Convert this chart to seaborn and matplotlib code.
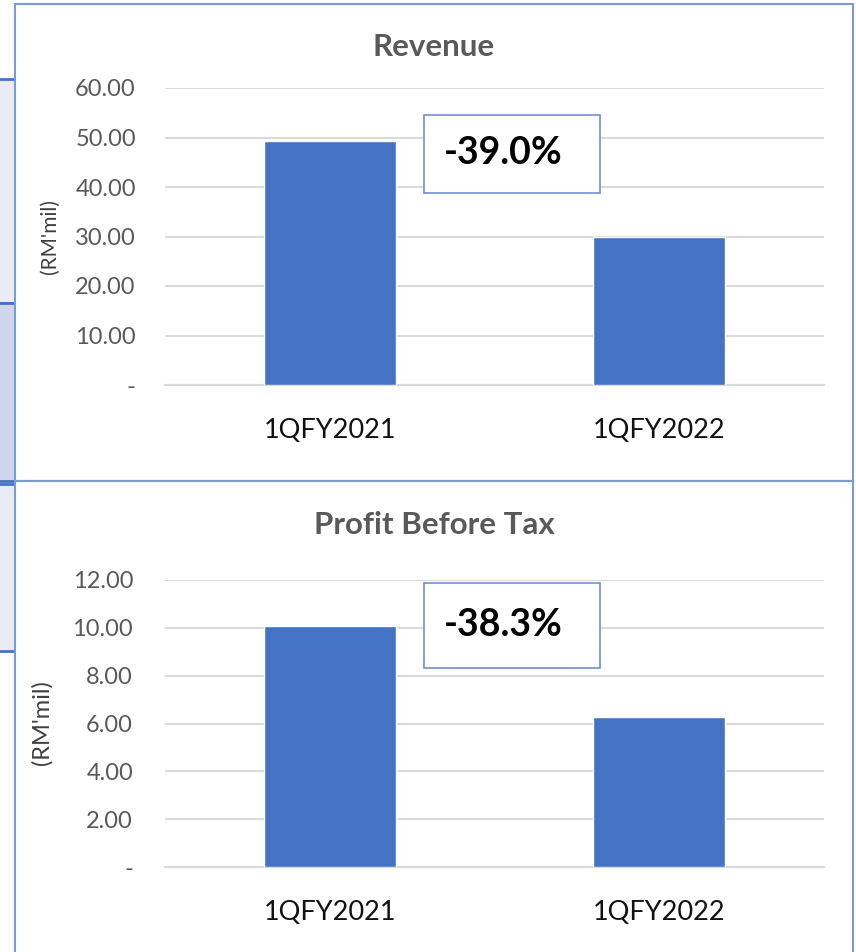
import pandas as pd
import seaborn as sns
import matplotlib.pyplot as plt
from matplotlib.patches import Rectangle

# data
periods = ['1QFY2021', '1QFY2022']
revenue = [49.3, 30.0]
pbt = [10.08, 6.26]
rev_change = '-39.0%'
pbt_change = '-38.3%'

W, H = 856, 952
BAR = '#4472c4'
GRID = '#d9d9d9'
GREY = '#595959'

sns.set_theme(style='white')
plt.rcParams['font.family'] = ['Lato', 'DejaVu Sans']

fig = plt.figure(figsize=(W / 100, H / 100), dpi=100)


def fbox(x0, y0, x1, y1, **kw):
    # rectangle in pixel coords (top-left origin) on the figure
    r = Rectangle((x0 / W, 1 - y1 / H), (x1 - x0) / W, (y1 - y0) / H,
                  transform=fig.transFigure, **kw)
    fig.add_artist(r)


def axes_px(x0, y0, x1, y1):
    ax = fig.add_axes([x0 / W, 1 - y1 / H, (x1 - x0) / W, (y1 - y0) / H])
    ax.set_zorder(2)
    return ax


# side boxes from the slide
fbox(-5, 79, 16, 303, facecolor='#e9ecf5', edgecolor=BAR, lw=2, zorder=0)
fbox(-5, 303, 16, 481, facecolor='#cfd5ea', edgecolor=BAR, lw=2, zorder=0)
fbox(-5, 484, 16, 651, facecolor='#e9ecf5', edgecolor=BAR, lw=2, zorder=0)

# panel borders
fbox(15, 4, 853, 481, facecolor='white', edgecolor='#7b9bd8', lw=1.5, zorder=1)
fbox(15, 481, 853, 955, facecolor='white', edgecolor='#7b9bd8', lw=1.5, zorder=1)


def panel(ax, values, ymax, step, title, change, title_y, box, pad):
    df = pd.DataFrame({'period': periods, 'value': values})
    sns.barplot(data=df, x='period', y='value', color=BAR, saturation=1,
                width=0.4, ax=ax, zorder=3)
    ax.set_ylim(0, ymax)
    ticks = [i * step for i in range(int(round(ymax / step)) + 1)]
    ax.set_yticks(ticks)
    ax.set_yticklabels(['-'] + [f'{t:.2f}' for t in ticks[1:]])
    ax.yaxis.grid(True, color=GRID, lw=1.5, zorder=0)
    ax.set_axisbelow(True)
    for s in ax.spines.values():
        s.set_visible(False)
    ax.spines['bottom'].set_visible(True)
    ax.spines['bottom'].set_color(GRID)
    ax.spines['bottom'].set_linewidth(1.5)
    ax.patch.set_alpha(0)
    ax.tick_params(axis='y', length=0, pad=pad, labelsize=17, labelcolor=GREY)
    ax.tick_params(axis='x', length=0, pad=24, labelsize=19.5, labelcolor='#111111')
    ax.set_xlabel('')
    ax.set_ylabel('')
    fig.text(434 / W, 1 - title_y / H, title, ha='center', va='center',
             fontsize=22.5, fontweight='bold', color=GREY)
    bx0, by0, bx1, by1 = box
    fbox(bx0, by0, bx1, by1, facecolor='white', edgecolor='#6f8fd6', lw=1.2, zorder=5)
    fig.text((bx0 + bx1) / 2 / W - 9 / W, 1 - ((by0 + by1) / 2 - 1) / H, change,
             ha='center', va='center', fontsize=27, fontweight='bold',
             color='black', zorder=6)


ax1 = axes_px(165, 88, 824, 385)
panel(ax1, revenue, 60, 10, 'Revenue', rev_change, 47,
      (424, 115, 600, 193), 21)
fig.text(50 / W, 1 - 237 / H, "(RM'mil)", rotation=90, ha='center', va='center',
         fontsize=15, color='#404040')

ax2 = axes_px(165, 580, 824, 867)
panel(ax2, pbt, 12, 2, 'Profit Before Tax', pbt_change, 525,
      (424, 583, 600, 668), 23)
fig.text(42 / W, 1 - 723 / H, "(RM'mil)", rotation=90, ha='center', va='center',
         fontsize=17, color='#404040')

fig.savefig('out.png', dpi=100)
